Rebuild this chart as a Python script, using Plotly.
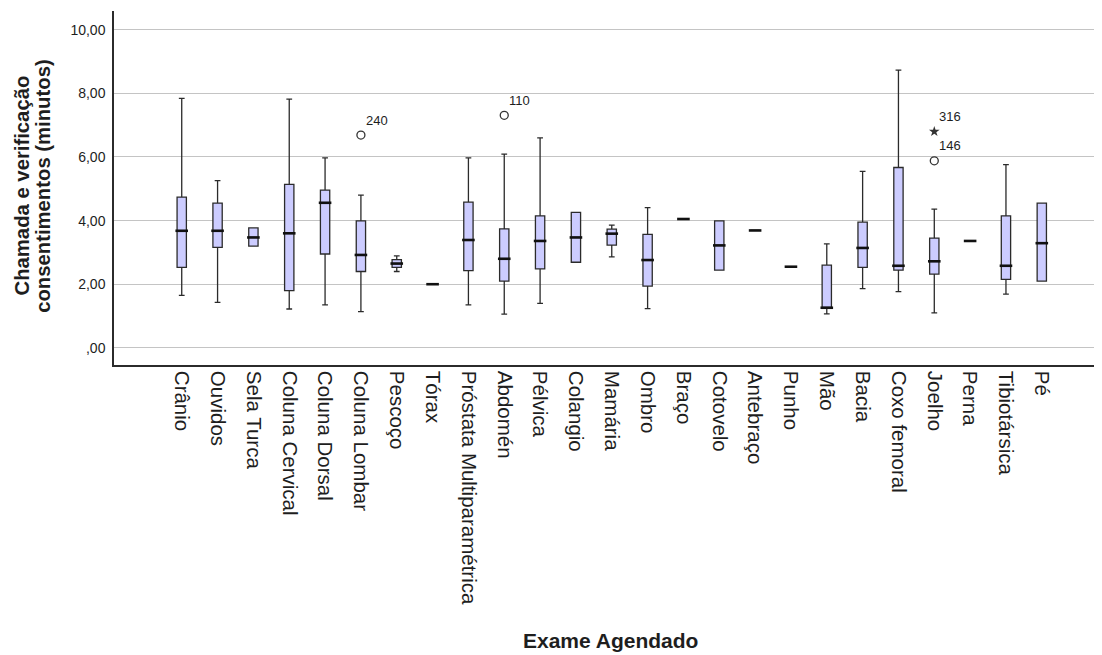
import plotly.graph_objects as go

categories = ["Crânio", "Ouvidos", "Sela Turca", "Coluna Cervical", "Coluna Dorsal",
              "Coluna Lombar", "Pescoço", "Tórax", "Próstata Multiparamétrica", "Abdomén",
              "Pélvica", "Colangio", "Mamária", "Ombro", "Braço", "Cotovelo", "Antebraço",
              "Punho", "Mão", "Bacia", "Coxo femoral", "Joelho", "Perna", "Tibiotársica", "Pé"]

lower_whisker = [1.65, 1.43, 3.20, 1.22, 1.35, 1.14, 2.40, 2.00, 1.35, 1.06, 1.40, 2.69, 2.86,
                 1.23, 4.05, 2.44, 3.69, 2.55, 1.07, 1.86, 1.77, 1.10, 3.36, 1.69, 2.10]
q1_values = [2.53, 3.16, 3.20, 1.80, 2.95, 2.40, 2.53, 2.00, 2.43, 2.10, 2.48, 2.69, 3.23,
             1.94, 4.05, 2.44, 3.69, 2.55, 1.24, 2.53, 2.44, 2.32, 3.36, 2.15, 2.10]
median_values = [3.68, 3.68, 3.47, 3.60, 4.56, 2.92, 2.65, 2.00, 3.39, 2.80, 3.36, 3.47, 3.59,
                 2.76, 4.05, 3.22, 3.69, 2.55, 1.26, 3.14, 2.58, 2.72, 3.36, 2.58, 3.29]
q3_values = [4.74, 4.55, 3.77, 5.14, 4.96, 3.99, 2.77, 2.00, 4.58, 3.74, 4.15, 4.26, 3.73,
             3.57, 4.05, 3.99, 3.69, 2.55, 2.60, 3.95, 5.67, 3.45, 3.36, 4.15, 4.55]
upper_whisker = [7.84, 5.26, 3.77, 7.82, 5.97, 4.80, 2.89, 2.00, 5.97, 6.09, 6.60, 4.26, 3.86,
                 4.41, 4.05, 3.99, 3.69, 2.55, 3.27, 5.55, 8.73, 4.36, 3.36, 5.76, 4.55]

outlier_cats = ["Coluna Lombar", "Abdomén", "Joelho"]
outlier_vals = [6.69, 7.31, 5.88]
outlier_ids = ["240", "110", "146"]

extreme_cats = ["Joelho"]
extreme_vals = [6.80]
extreme_ids = ["316"]

y_tickvals = [0, 2, 4, 6, 8, 10]
y_ticktext = [",00", "2,00", "4,00", "6,00", "8,00", "10,00"]

y_title_lines = ["Chamada e verificação", "consentimentos (minutos)"]
x_title = "Exame Agendado"

FONT = "Arial, 'Liberation Sans', sans-serif"
TXT = "#1e1e1e"
LINE = "#2b2b2b"

fig = go.Figure()

fig.add_trace(go.Box(
    x=categories, q1=q1_values, median=median_values, q3=q3_values,
    lowerfence=lower_whisker, upperfence=upper_whisker,
    boxpoints=False, fillcolor="#ccccff",
    line=dict(color=LINE, width=1.3), width=0.26, whiskerwidth=0.62,
    showlegend=False, hoverinfo="skip"))

# thicker median line
fig.add_trace(go.Scatter(
    x=categories, y=median_values, mode="markers",
    marker=dict(symbol="line-ew", size=9, line=dict(color="#111111", width=2.6)),
    showlegend=False, hoverinfo="skip"))

fig.add_trace(go.Scatter(
    x=outlier_cats, y=outlier_vals, mode="markers",
    marker=dict(symbol="circle-open", size=8, color="#333333", line=dict(width=1.3)),
    showlegend=False, hoverinfo="skip"))

fig.add_trace(go.Scatter(
    x=extreme_cats, y=extreme_vals, mode="markers",
    marker=dict(symbol="star", size=8, color="#333333", line=dict(width=0)),
    showlegend=False, hoverinfo="skip"))

for c, v, t in list(zip(outlier_cats, outlier_vals, outlier_ids)) + list(zip(extreme_cats, extreme_vals, extreme_ids)):
    fig.add_annotation(x=c, y=v, text=t, showarrow=False, xanchor="left", yanchor="middle",
                       xshift=3, yshift=15, font=dict(family=FONT, size=13, color=TXT))

# two-line rotated y title, one annotation per line
for xp, line_text in zip([-0.0935, -0.0719], y_title_lines):
    fig.add_annotation(xref="paper", yref="paper", x=xp, y=0.506, textangle=-90,
                       text="<b>" + line_text + "</b>",
                       showarrow=False, xanchor="center", yanchor="middle",
                       font=dict(family=FONT, size=20.3, color=TXT))

fig.add_annotation(xref="paper", yref="paper", x=0.503, y=-0.777,
                   text="<b>" + x_title + "</b>", showarrow=False,
                   xanchor="center", yanchor="middle",
                   font=dict(family=FONT, size=21, color=TXT))

# the page body adds an 8px offset, so the figure is sized to fit the window
fig.update_layout(
    width=1094, height=647,
    margin=dict(l=106, r=0, t=3, b=290, autoexpand=False),
    paper_bgcolor="white", plot_bgcolor="white",
    font=dict(family=FONT, color=TXT),
    xaxis=dict(type="category", categoryorder="array", categoryarray=categories,
               range=[-1.89, 25.68], tickangle=90, showgrid=False,
               showline=True, linecolor=LINE, linewidth=1.5, ticks="",
               tickfont=dict(family=FONT, size=20.5, color=TXT), zeroline=False),
    yaxis=dict(range=[-0.54, 10.59], tickvals=y_tickvals, ticktext=y_ticktext,
               showgrid=True, gridcolor="#c4c4c4", gridwidth=1, zeroline=False,
               showline=True, linecolor=LINE, linewidth=1.5, ticks="",
               ticklabelstandoff=4,
               tickfont=dict(family=FONT, size=14, color=TXT)),
)

fig.write_html("out.html")
